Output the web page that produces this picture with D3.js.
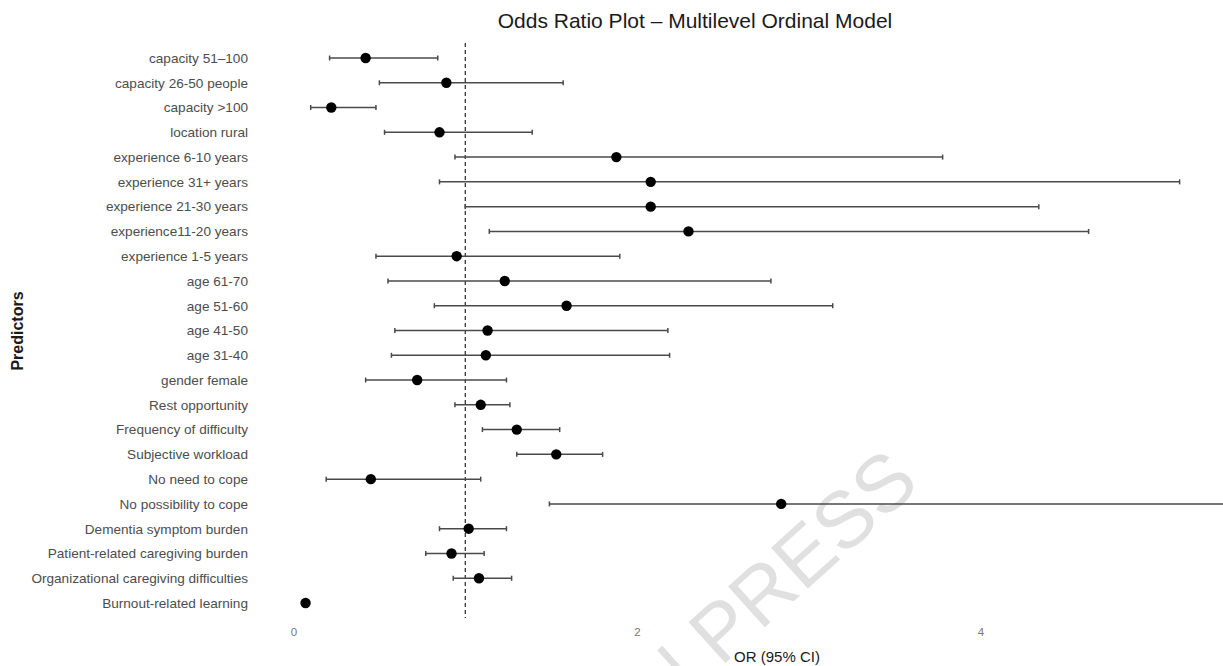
<!DOCTYPE html>
<html>
<head>
<meta charset="utf-8">
<script src="https://cdn.jsdelivr.net/npm/d3@7"></script>
<style>
	body { margin: 0; background: #fff; }
	svg { display: block; font-family: "Liberation Sans", Arial, sans-serif; }
</style>
</head>
<body>
<div id="container"></div>
<script>
/* Data */
var predictors = [
	"capacity 51\u2013100", "capacity 26-50 people", "capacity >100", "location rural",
	"experience 6-10 years", "experience 31+ years", "experience 21-30 years", "experience11-20 years",
	"experience 1-5 years", "age 61-70", "age 51-60", "age 41-50", "age 31-40", "gender female",
	"Rest opportunity", "Frequency of difficulty", "Subjective workload", "No need to cope",
	"No possibility to cope", "Dementia symptom burden", "Patient-related caregiving burden",
	"Organizational caregiving difficulties", "Burnout-related learning"
];
var oddsRatio = [0.42, 0.89, 0.22, 0.85, 1.88, 2.08, 2.08, 2.30, 0.95, 1.23, 1.59, 1.13, 1.12, 0.72,
	1.09, 1.30, 1.53, 0.45, 2.84, 1.02, 0.92, 1.08, 0.07];
var ciLower = [0.21, 0.50, 0.10, 0.53, 0.94, 0.85, 1.00, 1.14, 0.48, 0.55, 0.82, 0.59, 0.57, 0.42,
	0.94, 1.10, 1.30, 0.19, 1.49, 0.85, 0.77, 0.93, 0.06];
var ciUpper = [0.84, 1.57, 0.48, 1.39, 3.78, 5.16, 4.34, 4.63, 1.90, 2.78, 3.14, 2.18, 2.19, 1.24,
	1.26, 1.55, 1.80, 1.09, 5.68, 1.24, 1.11, 1.27, 0.075];
var xTicks = [0, 2, 4];

var dataset = predictors.map((p, i) => ({ name: p, or: oddsRatio[i], lo: ciLower[i], hi: ciUpper[i] }));

var w = 1223, h = 666;
var panel = { left: 253, right: 1317, top: 43, bottom: 618 };

var svg = d3.select("#container").append("svg")
	.attr("width", w)
	.attr("height", h);

/* Scales */
var xScale = d3.scaleLinear()
	.domain([-0.236, 5.96])
	.range([panel.left, panel.right]);
var yScale = d3.scalePoint()
	.domain(predictors)
	.range([58, 603]);

/* Watermark */
svg.append("text")
	.attr("transform", "translate(922,486) rotate(-42)")
	.attr("text-anchor", "end")
	.style("font-size", "80px")
	.style("fill", "#e0e0e0")
	.text("IN PRESS");

/* Reference line at OR = 1 */
svg.append("line")
	.attr("x1", xScale(1)).attr("x2", xScale(1))
	.attr("y1", panel.top).attr("y2", panel.bottom)
	.attr("stroke", "#111")
	.attr("stroke-width", 1.1)
	.attr("stroke-dasharray", "4,3");

/* Error bars */
var bars = svg.append("g").selectAll("g")
	.data(dataset)
	.enter().append("g")
	.attr("stroke", "#4a4a4a")
	.attr("stroke-width", 1.5);

bars.append("line")
	.attr("x1", d => xScale(d.lo))
	.attr("x2", d => xScale(d.hi))
	.attr("y1", d => yScale(d.name))
	.attr("y2", d => yScale(d.name));
bars.append("line")
	.attr("x1", d => xScale(d.lo)).attr("x2", d => xScale(d.lo))
	.attr("y1", d => yScale(d.name) - 2.5).attr("y2", d => yScale(d.name) + 2.5);
bars.append("line")
	.attr("x1", d => xScale(d.hi)).attr("x2", d => xScale(d.hi))
	.attr("y1", d => yScale(d.name) - 2.5).attr("y2", d => yScale(d.name) + 2.5);

/* Points */
svg.append("g").selectAll("circle")
	.data(dataset)
	.enter().append("circle")
	.attr("cx", d => xScale(d.or))
	.attr("cy", d => yScale(d.name))
	.attr("r", 5.2)
	.attr("fill", "#000");

/* Axes */
var xAxis = d3.axisBottom(xScale).tickValues(xTicks).tickFormat(d3.format("d")).tickSize(0).tickPadding(10);
svg.append("g")
	.attr("transform", "translate(0," + panel.bottom + ")")
	.call(xAxis)
	.call(g => g.select(".domain").remove())
	.selectAll("text")
		.style("font-size", "11.5px")
		.style("fill", "#777");

var yAxis = d3.axisLeft(yScale).tickSize(0).tickPadding(5);
svg.append("g")
	.attr("transform", "translate(" + panel.left + ",0)")
	.call(yAxis)
	.call(g => g.select(".domain").remove())
	.selectAll("text")
		.style("font-size", "13.6px")
		.style("fill", "#4d4d4d");

/* Titles */
svg.append("text")
	.attr("x", 695).attr("y", 28)
	.attr("text-anchor", "middle")
	.style("font-size", "21px")
	.style("fill", "#1a1a1a")
	.text("Odds Ratio Plot \u2013 Multilevel Ordinal Model");

svg.append("text")
	.attr("x", 777).attr("y", 662)
	.attr("text-anchor", "middle")
	.style("font-size", "15px")
	.style("fill", "#1a1a1a")
	.text("OR (95% CI)");

svg.append("text")
	.attr("transform", "translate(23,331) rotate(-90)")
	.attr("text-anchor", "middle")
	.style("font-size", "16px")
	.style("font-weight", "bold")
	.style("fill", "#1a1a1a")
	.text("Predictors");
</script>
</body>
</html>
